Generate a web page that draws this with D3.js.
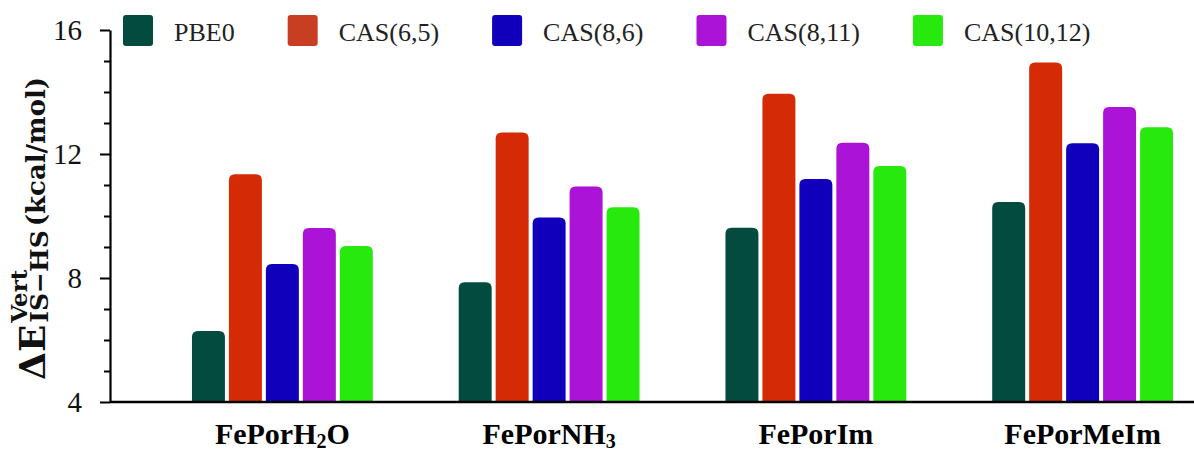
<!DOCTYPE html>
<html>
<head>
<meta charset="utf-8">
<script src="https://cdn.jsdelivr.net/npm/d3@7"></script>
<style>
body { margin: 0; background: #fff; }
svg { display: block; }
</style>
</head>
<body>
<div id="chart"></div>
<script>
// data
var categories = ["FePorH2O", "FePorNH3", "FePorIm", "FePorMeIm"];
var seriesNames = ["PBE0", "CAS(6,5)", "CAS(8,6)", "CAS(8,11)", "CAS(10,12)"];
var pbe0 = [6.29, 7.86, 9.62, 10.45];
var cas65 = [11.35, 12.69, 13.94, 14.95];
var cas86 = [8.45, 9.95, 11.19, 12.35];
var cas811 = [9.61, 10.95, 12.36, 13.52];
var cas1012 = [9.03, 10.28, 11.61, 12.86];
var majorTicks = [4, 8, 12, 16];
var minorTicks = [5, 6, 7, 9, 10, 11, 13, 14, 15];

var colors = ["#034b3f", "#d42a05", "#1100bb", "#ab13d6", "#27e90e"];
var legendColors = ["#034b3f", "#c83e23", "#1000bb", "#ab13d6", "#27e90e"];

var seriesValues = [pbe0, cas65, cas86, cas811, cas1012];

var serif = "'Liberation Serif', 'Times New Roman', serif";

// layout
var outerWidth = 1194,
    outerHeight = 450,
    axisX = 110,
    plotTop = 30,
    plotBottom = 402;

var svg = d3.select("#chart")
    .append("svg")
    .attr("width", outerWidth)
    .attr("height", outerHeight);

var y = d3.scaleLinear()
    .domain([4, 16])
    .range([plotBottom, plotTop]);

var x0 = d3.scaleBand()
    .domain(categories)
    .range([149, 1216])
    .padding(0);

var x1 = d3.scaleBand()
    .domain(seriesNames)
    .range([0, x0.bandwidth()])
    .paddingInner(0.108)
    .paddingOuter(1.162);

// bar with rounded top corners
function barPath(bx, by, bw, bh, r) {
    r = Math.min(r, bh, bw / 2);
    return "M" + bx + "," + (by + bh) +
        "V" + (by + r) +
        "Q" + bx + "," + by + " " + (bx + r) + "," + by +
        "H" + (bx + bw - r) +
        "Q" + (bx + bw) + "," + by + " " + (bx + bw) + "," + (by + r) +
        "V" + (by + bh) + "Z";
}

var rows = [];
seriesNames.forEach(function(s, i) {
    categories.forEach(function(c, j) {
        rows.push({ series: s, cat: c, value: seriesValues[i][j], color: colors[i] });
    });
});

svg.append("g")
    .classed("bars", true)
    .selectAll("path")
    .data(rows)
    .enter()
    .append("path")
    .attr("d", function(d) {
        var bx = x0(d.cat) + x1(d.series);
        var by = y(d.value);
        return barPath(bx, by, x1.bandwidth(), y(4) - by, 6);
    })
    .style("fill", function(d) { return d.color; });

// x axis line
svg.append("line")
    .attr("x1", axisX)
    .attr("x2", outerWidth)
    .attr("y1", y(4))
    .attr("y2", y(4))
    .style("stroke", "#000")
    .style("stroke-width", 2.6);

// y axis
var yAxis = d3.axisLeft(y)
    .tickValues(majorTicks)
    .tickSize(10)
    .tickSizeOuter(0)
    .tickPadding(18);

var gY = svg.append("g")
    .attr("transform", "translate(" + axisX + ",0)")
    .call(yAxis)
    .attr("font-family", serif);
gY.select(".domain").style("stroke", "#000").style("stroke-width", 2.2);
gY.selectAll(".tick line").style("stroke", "#000").style("stroke-width", 2);
gY.selectAll(".tick text")
    .style("font-family", serif)
    .style("font-size", "29px")
    .style("fill", "#111");

var yMinor = d3.axisLeft(y)
    .tickValues(minorTicks)
    .tickSize(6)
    .tickFormat("");

var gYm = svg.append("g")
    .attr("transform", "translate(" + axisX + ",0)")
    .call(yMinor);
gYm.select(".domain").remove();
gYm.selectAll(".tick line").style("stroke", "#000").style("stroke-width", 2);

// category labels, digits as subscripts
var xLabels = svg.append("g").classed("xlabels", true);
categories.forEach(function(c) {
    var t = xLabels.append("text")
        .attr("x", x0(c) + x0.bandwidth() / 2)
        .attr("y", 444)
        .attr("text-anchor", "middle")
        .style("font-family", serif)
        .style("font-weight", "bold")
        .style("font-size", "30px")
        .style("fill", "#000");
    var parts = c.split(/(\d)/).filter(function(p) { return p.length; });
    var shifted = false;
    parts.forEach(function(p) {
        var isSub = /^\d$/.test(p);
        var ts = t.append("tspan").text(p);
        if (isSub) {
            ts.style("font-size", "20px").attr("dy", 4);
            shifted = true;
        } else if (shifted) {
            ts.attr("dy", -4);
            shifted = false;
        }
    });
});

// y axis title
var title = svg.append("g")
    .attr("transform", "translate(45,380) rotate(-90)")
    .style("font-family", "'DejaVu Serif', serif")
    .style("font-weight", "bold")
    .style("fill", "#111");

var mainT = title.append("text")
    .attr("x", 0)
    .attr("y", 0)
    .style("font-size", "36px")
    .text("\u0394E");
var mainW = mainT.node().getComputedTextLength();

var supT = title.append("text")
    .attr("x", mainW + 2)
    .attr("y", -18)
    .style("font-size", "23px")
    .text("Vert");
var subT = title.append("text")
    .attr("x", mainW + 2)
    .attr("y", 3)
    .style("font-size", "25px")
    .text("IS\u2212HS");
var scriptW = Math.max(supT.node().getComputedTextLength(), subT.node().getComputedTextLength());

title.append("text")
    .attr("x", mainW + 2 + scriptW + 4)
    .attr("y", 0)
    .style("font-size", "26px")
    .text("(kcal/mol)");

// legend
var legend = svg.append("g").classed("legend", true);
var lx = 123;
seriesNames.forEach(function(s, i) {
    legend.append("rect")
        .attr("x", lx)
        .attr("y", 15)
        .attr("width", 30)
        .attr("height", 31)
        .attr("rx", 3)
        .style("fill", legendColors[i]);
    var lt = legend.append("text")
        .attr("x", lx + 51)
        .attr("y", 41)
        .style("font-family", serif)
        .style("font-size", "26px")
        .style("fill", "#222")
        .text(s);
    lx += 51 + lt.node().getComputedTextLength() + 53;
});
</script>
</body>
</html>
